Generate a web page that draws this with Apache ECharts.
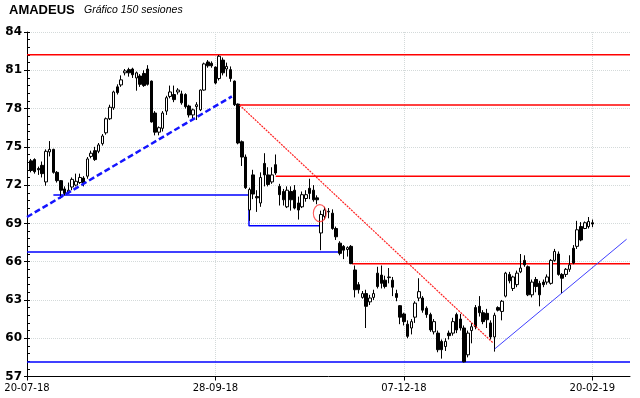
<!DOCTYPE html>
<html><head><meta charset="utf-8">
<script src="https://cdn.jsdelivr.net/npm/echarts@6/dist/echarts.min.js"></script>
<style>html,body{margin:0;padding:0;background:#fff}#c{width:640px;height:398px}</style>
</head><body><div id="c"></div>
<script>
// ---- data (session index, price) ----
const tickSessions = [0, 50, 100, 150];
const tickLabels = ['20-07-18', '28-09-18', '07-12-18', '20-02-19'];
const axisSessions = 160;
const firstSession = 1;

const opens = [73.9,74.0,73.3,73.55,72.25,74.6,74.8,73.0,72.35,71.7,71.4,71.85,72.0,72.2,72.55,72.7,74.25,74.7,74.65,75.25,
76.1,77.2,78.05,79.7,79.85,80.8,81.05,81.1,80.4,80.55,80.75,81.1,80.15,77.65,76.15,76.45,77.8,78.95,79.1,79.3,
79.15,79.1,78.2,77.5,78.15,77.9,79.45,81.65,81.55,81.25,80.35,81.8,81.1,81.05,80.15,78.35,75.4,74.2,70.05,72.8,
71.1,70.6,73.7,72.8,72.25,73.6,71.9,71.5,70.3,71.5,71.6,70.6,70.3,70.95,71.75,71.6,71.0,68.25,69.55,69.9,
69.8,68.6,67.45,67.2,66.95,67.2,65.35,64.2,63.2,63.5,62.85,63.2,65.1,64.95,64.55,64.75,64.55,63.5,62.55,61.9,
61.1,60.8,61.65,63.15,63.15,62.35,61.85,60.5,60.4,59.75,59.35,60.4,60.4,61.85,61.5,60.8,58.7,60.6,62.4,62.5,
62.0,61.95,61.2,60.1,62.4,62.1,63.3,65.0,63.9,64.2,65.2,66.1,65.6,63.4,64.6,64.3,64.4,64.4,64.3,66.1,
66.6,65.0,65.0,65.4,67.05,67.2,68.75,68.6,68.75,69.05];
const closes = [73.15,73.05,73.2,72.9,74.65,74.8,73.0,72.35,71.6,71.35,71.6,72.45,72.3,72.6,72.15,74.05,74.5,74.0,75.15,75.85,
77.2,78.1,79.3,79.25,80.25,80.95,80.8,80.65,80.8,79.9,79.8,79.9,76.95,76.15,76.5,77.65,78.85,79.3,78.7,79.45,
78.45,78.15,77.5,77.9,78.3,79.45,81.5,81.35,81.35,80.0,82.1,80.8,81.3,80.35,78.3,75.3,74.2,71.8,71.65,71.3,
71.0,72.6,72.8,72.05,72.8,72.95,71.25,70.85,71.6,70.85,70.2,70.05,71.25,71.25,71.35,70.85,70.85,69.7,70.05,69.95,
68.6,67.95,66.65,66.9,67.1,65.85,63.8,63.8,63.5,62.5,63.15,63.5,64.05,64.3,64.05,64.8,64.0,63.2,61.65,61.3,
60.15,61.3,62.75,63.65,62.2,61.85,60.65,61.3,59.1,59.1,59.75,60.2,61.3,60.65,60.8,58.15,60.4,60.9,60.9,62.0,
61.3,61.45,60.1,61.8,62.2,62.9,65.1,64.5,64.8,65.1,65.5,65.75,63.4,64.4,64.05,63.4,64.2,64.8,66.1,66.8,
65.0,64.7,65.4,65.75,65.9,68.5,67.7,69.05,69.15,68.95];
const lows = [73.0,72.9,72.8,72.6,71.95,74.25,72.9,72.2,70.95,71.2,71.3,71.6,71.9,72.1,71.9,72.5,74.1,73.9,74.5,75.1,
75.95,77.1,77.9,79.1,79.7,80.6,80.5,80.4,79.4,79.7,79.7,79.8,76.9,75.9,75.9,76.2,77.5,78.8,78.5,79.1,
78.3,78.0,77.3,77.2,77.1,77.8,79.4,81.2,81.2,79.9,80.2,80.6,80.5,80.1,78.2,75.2,73.5,71.7,69.2,70.9,
69.9,70.3,71.9,71.9,72.1,72.8,70.4,70.4,70.2,70.0,70.1,69.3,70.2,70.7,70.9,70.7,70.5,66.9,69.3,69.4,
68.5,67.7,66.5,66.2,66.4,65.8,63.2,63.5,63.1,60.8,62.6,63.0,63.9,63.9,63.9,64.3,63.3,62.9,61.1,61.0,
60.0,60.3,61.2,62.9,62.0,61.6,60.5,60.3,58.9,58.4,59.0,59.9,60.2,60.4,60.6,58.1,58.5,59.6,60.7,61.7,
61.1,60.8,59.9,58.95,62.1,61.4,63.2,64.3,63.7,64.0,65.1,65.6,63.3,63.2,63.6,62.5,64.0,64.2,64.2,66.0,
64.9,63.5,64.8,65.2,65.8,67.0,67.6,68.55,68.6,68.7];
const highs = [74.05,74.1,73.45,73.85,74.8,75.45,74.85,73.1,72.4,71.9,72.2,72.6,72.9,72.9,72.7,74.2,74.7,75.0,75.3,76.0,
77.3,78.3,79.4,79.9,80.6,81.1,81.2,81.2,80.9,80.7,81.0,81.4,80.2,77.8,76.6,77.8,79.0,79.8,79.8,79.6,
79.4,79.2,78.3,78.0,78.5,79.5,81.6,81.8,81.7,81.3,82.2,82.0,81.6,81.3,80.2,78.4,75.5,74.4,71.8,73.2,
71.6,73.0,74.5,73.4,73.4,74.4,72.1,71.7,71.9,71.9,72.0,71.1,71.5,71.6,72.5,72.0,71.2,70.0,70.3,70.2,
70.1,68.75,67.6,67.3,67.2,67.3,65.7,64.4,63.7,63.8,63.4,63.8,65.6,65.7,64.9,65.5,64.8,63.8,62.6,62.0,
61.4,61.5,62.9,64.7,63.3,62.5,62.0,61.5,60.6,59.9,60.0,60.6,61.6,62.0,61.9,61.0,60.6,61.2,62.6,63.3,
62.2,62.3,61.4,62.0,62.5,63.0,65.2,65.2,64.9,65.3,66.6,66.5,65.7,64.6,64.8,64.5,64.6,65.0,66.2,67.0,
66.8,65.1,65.5,66.5,67.3,69.2,69.1,69.15,69.5,69.3];

// chart annotations (session index, price)
const redLevels = [82.22, 78.27, 72.7, 65.83];
const redLevelStarts = [0, 55.8, 66.0, 86.2];
const blueLevels = [66.75, 58.13];
const blueLevelEnds = [83.0, 160];
const blueBox = [[7, 71.22], [58.9, 71.22], [58.9, 68.81], [77.8, 68.81]];
const dashedTrend = [[0, 69.5], [54.35, 78.95]];
const redTrend = [[56.4, 78.27], [123.6, 59.65]];
const blueTrend = [[124.1, 59.16], [159.1, 67.76]];
const circleMark = [77.7, 69.8];

const yMin = 57, yMax = 84, yStep = 3;

// ---- build ----
const categories = Array.from({length: axisSessions + 1}, (_, i) => String(i));
const candles = opens.map((o, k) => [firstSession + k, o, closes[k], lows[k], highs[k]]);
const isTick = idx => tickSessions.indexOf(idx) >= 0;

const series = [{
  type: 'candlestick', xAxisIndex: 0, yAxisIndex: 0,
  data: candles, encode: {x: 0, y: [1, 2, 3, 4]},
  barWidth: 3,
  itemStyle: {color: '#ffffff', color0: '#000000', borderColor: '#000000', borderColor0: '#000000', borderWidth: 1},
  z: 5
}];
function addLine(pts, color, width, type, z) {
  series.push({type: 'line', xAxisIndex: 1, yAxisIndex: 0, data: pts, symbol: 'none',
    lineStyle: {color: color, width: width, type: type || 'solid'}, z: z || 3, silent: true});
}
redLevels.forEach((v, k) => addLine([[redLevelStarts[k], v], [axisSessions, v]], '#ff0000', 1.5));
blueLevels.forEach((v, k) => addLine([[0, v], [blueLevelEnds[k], v]], '#0000ff', 1.5));
addLine(blueBox, '#0000ff', 1.5);
addLine(dashedTrend, '#1515ff', 2.5, [6, 3], 6);
addLine(redTrend, '#ff2020', 1.2, [2, 1], 6);
addLine(blueTrend, '#4040ff', 1, 'solid', 6);
series.push({type: 'scatter', xAxisIndex: 1, yAxisIndex: 0, data: [circleMark], symbol: 'circle',
  symbolSize: [13, 17], itemStyle: {color: 'rgba(0,0,0,0)', borderColor: '#ff3030', borderWidth: 1.2}, z: 7, silent: true});

const gridLine = {show: true, lineStyle: {color: '#d4dada', type: 'dotted', width: 1}};
const chart = echarts.init(document.getElementById('c'), null, {renderer: 'canvas'});
chart.setOption({
  animation: false,
  backgroundColor: '#ffffff',
  grid: {left: 27, right: 10, top: 32, bottom: 21.5, containLabel: false},
  graphic: [
    {type: 'text', left: 9, top: 4, style: {text: 'AMADEUS', font: 'bold 13px "Liberation Sans", Arial, sans-serif', fill: '#000'}},
    {type: 'text', left: 84, top: 5, style: {text: 'Gráfico 150 sesiones', font: 'italic 10.5px "Liberation Sans", Arial, sans-serif', fill: '#000'}}
  ],
  xAxis: [{
    type: 'category', data: categories, boundaryGap: false, position: 'bottom',
    axisLine: {show: true, onZero: false, lineStyle: {color: '#000', width: 1}},
    axisTick: {show: true, interval: isTick, length: 4, lineStyle: {color: '#000'}},
    axisLabel: {show: true, interval: isTick, margin: 7, color: '#000',
      fontFamily: '"DejaVu Sans", sans-serif', fontSize: 10,
      formatter: (v, idx) => tickLabels[tickSessions.indexOf(idx)] || ''},
    splitLine: Object.assign({interval: (idx) => isTick(idx) && idx > 0}, gridLine)
  }, {
    type: 'value', min: 0, max: axisSessions, show: false, position: 'bottom'
  }],
  yAxis: [{
    type: 'value', min: yMin, max: yMax, interval: yStep, position: 'left',
    axisLine: {show: true, lineStyle: {color: '#000', width: 1}},
    axisTick: {show: true, length: 3, lineStyle: {color: '#000'}},
    axisLabel: {margin: 5, color: '#000', fontFamily: '"DejaVu Sans", sans-serif', fontWeight: 'bold', fontSize: 12},
    splitLine: gridLine
  }, {
    type: 'value', min: yMin, max: yMax, interval: yStep, position: 'left', offset: 0,
    axisLine: {show: false},
    axisTick: {show: true, inside: true, length: 3, lineStyle: {color: '#000'}},
    minorTick: {show: true, splitNumber: 5, length: 3, lineStyle: {color: '#000'}},
    axisLabel: {show: false}, splitLine: {show: false}
  }],
  series: series
});
</script></body></html>
